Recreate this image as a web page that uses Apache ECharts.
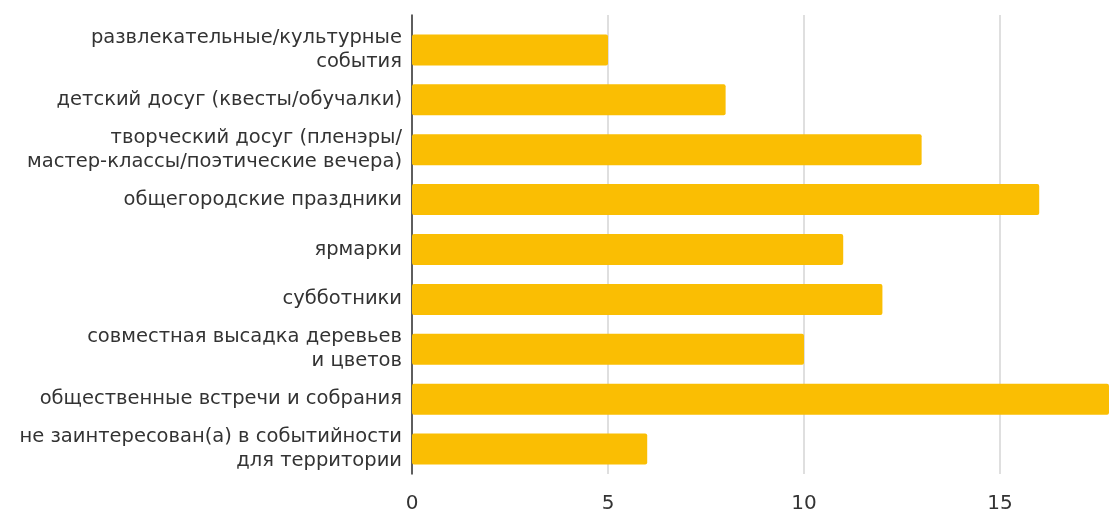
<!DOCTYPE html>
<html>
<head>
<meta charset="utf-8">
<script src="https://cdn.jsdelivr.net/npm/echarts@6/dist/echarts.min.js"></script>
<style>
html,body{margin:0;padding:0;background:#fff;}
#chart{width:1109px;height:514px;}
</style>
</head>
<body>
<div id="chart"></div>
<script>
const categories = [
  "развлекательные/культурные\nсобытия",
  "детский досуг (квесты/обучалки)",
  "творческий досуг (пленэры/\nмастер-классы/поэтические вечера)",
  "общегородские праздники",
  "ярмарки",
  "субботники",
  "совместная высадка деревьев\nи цветов",
  "общественные встречи и собрания",
  "не заинтересован(а) в событийности\nдля территории"
];
const values = [5, 8, 13, 16, 11, 12, 10, 18, 6];
const xTicks = [0, 5, 10, 15];
const xMax = 17.78;

const FONT = "DejaVu Sans";
const chart = echarts.init(document.getElementById('chart'), null, {renderer: 'canvas'});
chart.setOption({
  animation: false,
  grid: [
    {left: 412, right: 0, top: 15, bottom: 31, containLabel: false},
    {left: 412, right: 0, top: 25, bottom: 40, containLabel: false}
  ],
  xAxis: [
    {
      gridIndex: 0, type: 'value', min: 0, max: xMax, interval: 5,
      axisLine: {show: false}, axisTick: {show: false},
      splitLine: {show: true, showMaxLine: false, lineStyle: {color: '#d4d4d4', width: 1.5}},
      axisLabel: {
        showMaxLabel: false, margin: 20,
        color: '#333', fontFamily: FONT, fontSize: 20, fontWeight: 'normal',
        formatter: v => xTicks.includes(v) ? String(v) : ''
      }
    },
    {
      gridIndex: 1, type: 'value', min: 0, max: xMax, show: false
    }
  ],
  yAxis: [
    {
      gridIndex: 0, type: 'value', min: 0, max: 1,
      axisLine: {show: true, lineStyle: {color: '#333', width: 1.5}},
      axisTick: {show: false}, axisLabel: {show: false}, splitLine: {show: false}
    },
    {
      gridIndex: 1, type: 'category', data: categories, inverse: true,
      axisLine: {show: false}, axisTick: {show: false}, splitLine: {show: false},
      axisLabel: {
        margin: 10, color: '#333', fontFamily: FONT, fontSize: 19.5, fontWeight: 'normal',
        lineHeight: 24, align: 'right'
      }
    }
  ],
  series: [{
    type: 'bar', xAxisIndex: 1, yAxisIndex: 1,
    data: values, barWidth: 31,
    itemStyle: {color: '#FABE03', borderRadius: 2},
    clip: true
  }]
});
</script>
</body>
</html>
